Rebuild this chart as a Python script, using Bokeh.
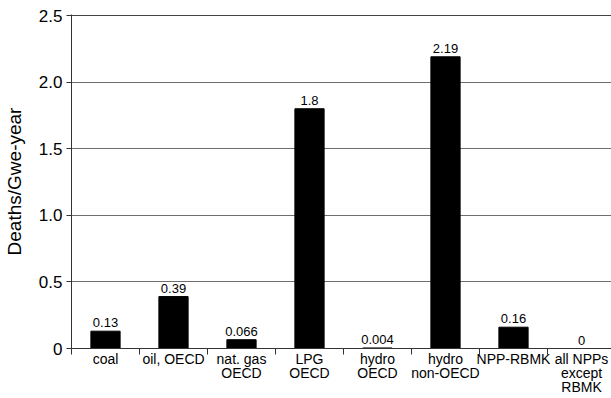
from bokeh.plotting import figure
from bokeh.models import Range1d, FixedTicker, ColumnDataSource, Span
from bokeh.core.properties import value
from bokeh.embed import file_html
from bokeh.resources import INLINE

categories = ["coal", "oil, OECD", "nat. gas\nOECD", "LPG\nOECD", "hydro\nOECD",
              "hydro\nnon-OECD", "NPP-RBMK", "all NPPs\nexcept\nRBMK"]
deaths = [0.13, 0.39, 0.066, 1.8, 0.004, 2.19, 0.16, 0]
y_ticks = [0, 0.5, 1.0, 1.5, 2.0, 2.5]
y_tick_labels = ["0", "0.5", "1.0", "1.5", "2.0", "2.5"]

FONT = "Liberation Sans"

n = len(categories)
xs = [i + 0.5 for i in range(n)]
src = ColumnDataSource(dict(x=xs, top=deaths, lab=[f"{v:g}" for v in deaths]))

p = figure(frame_width=542, frame_height=334, output_backend="svg", toolbar_location=None,
           x_range=Range1d(0, 542 / 68), y_range=Range1d(0, 2.5 * 334 / 333))
p.min_border_left = 61
p.min_border_right = 0
p.min_border_top = 14
p.min_border_bottom = 10
p.outline_line_color = None
p.background_fill_color = "white"
p.border_fill_color = "white"

p.vbar(x="x", top="top", width=0.43, bottom=0, source=src, color="black")
p.text(x="x", y="top", text="lab", source=src, text_align="center",
       text_baseline="bottom", y_offset=-4, text_font=value(FONT),
       text_font_size="13px", text_color="black")

# x axis: labels at centers, tick marks at boundaries (minor ticks)
xa = p.xaxis[0]
xa.ticker = FixedTicker(ticks=xs, minor_ticks=list(range(n + 1)))
xa.major_label_overrides = {x: c for x, c in zip(xs, categories)}
xa.major_tick_out = 0
xa.major_tick_in = 0
xa.minor_tick_out = 6
xa.minor_tick_in = 0
xa.minor_tick_line_color = "#333333"
xa.axis_line_color = "#333333"
xa.major_label_standoff = -4
xa.major_label_text_font = FONT
xa.major_label_text_font_size = "14px"
xa.major_label_text_line_height = 0.9
xa.major_label_text_color = "black"

ya = p.yaxis[0]
ya.ticker = FixedTicker(ticks=y_ticks, minor_ticks=[])
ya.major_label_overrides = {t: l for t, l in zip(y_ticks, y_tick_labels)}
ya.major_tick_out = 5
ya.major_tick_in = 0
ya.major_tick_line_color = "#333333"
ya.axis_line_color = "#333333"
ya.major_label_standoff = 4
ya.major_label_text_font = FONT
ya.major_label_text_font_size = "17px"
ya.major_label_text_color = "black"
ya.axis_label = "Deaths/Gwe-year"
ya.axis_label_text_font = FONT
ya.axis_label_text_font_size = "19px"
ya.axis_label_text_font_style = "normal"
ya.axis_label_text_color = "black"
ya.axis_label_standoff = 11

p.xgrid.grid_line_color = None
p.ygrid.ticker = FixedTicker(ticks=y_ticks[1:-1])
p.ygrid.grid_line_color = "#6e6e6e"
p.ygrid.grid_line_width = 1
p.add_layout(Span(location=y_ticks[-1], dimension="width", line_color="#444444", line_width=1))

open("out.html", "w").write(file_html(p, INLINE))
